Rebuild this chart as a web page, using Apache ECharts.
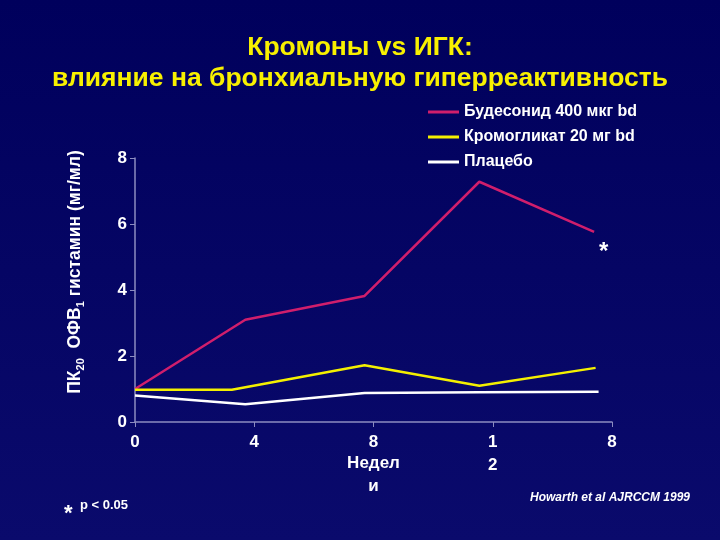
<!DOCTYPE html>
<html>
<head>
<meta charset="utf-8">
<script src="https://cdn.jsdelivr.net/npm/echarts@6/dist/echarts.min.js"></script>
<style>
html,body{margin:0;padding:0;background:#000060;}
#c{width:720px;height:540px;}
</style>
</head>
<body>
<div id="c"></div>
<script>
// ---- data ----
var xTickLabels = ["0", "4", "8", "1\n2", "8"];
var seriesNames = ["Будесонид 400 мкг bd", "Кромогликат 20 мг bd", "Плацебо"];
var budWeeks = [0, 3.7, 7.7, 11.55, 15.4];
var budValues = [1.0, 3.1, 3.82, 7.28, 5.76];
var cromWeeks = [0, 3.25, 7.7, 11.55, 15.45];
var cromValues = [0.98, 0.98, 1.72, 1.1, 1.64];
var placWeeks = [0, 3.7, 7.7, 11.55, 15.55];
var placValues = [0.8, 0.54, 0.88, 0.9, 0.92];

function pairs(xs, ys) { return xs.map(function (x, i) { return [x, ys[i]]; }); }

var font = 'Liberation Sans, Arial, sans-serif';
var chart = echarts.init(document.getElementById('c'));
chart.setOption({
  backgroundColor: {
    type: 'linear', x: 0, y: 0, x2: 0, y2: 1,
    colorStops: [{ offset: 0, color: '#00005c' }, { offset: 1, color: '#0a0a6c' }]
  },
  animation: false,
  title: {
    text: 'Кромоны vs ИГК:\nвлияние на бронхиальную гиперреактивность',
    left: 'center', top: 27,
    textStyle: { color: '#f8f000', fontSize: 26.5, fontWeight: 'bold', fontFamily: font, lineHeight: 31 }
  },
  legend: {
    orient: 'vertical', left: 423, top: 98,
    icon: 'rect', itemWidth: 31, itemHeight: 3, itemGap: 7,
    textStyle: { color: '#ffffff', fontSize: 16, fontWeight: 'bold', fontFamily: font, lineHeight: 18 },
    data: seriesNames
  },
  grid: { left: 135, right: 108, top: 158, bottom: 118 },
  xAxis: {
    type: 'value', min: 0, max: 16, interval: 4,
    splitLine: { show: false },
    axisLine: { lineStyle: { color: '#8c8cc0', width: 1.5 } },
    axisTick: { show: true, length: 5, lineStyle: { color: '#8c8cc0' } },
    axisLabel: {
      color: '#ffffff', fontSize: 17, fontWeight: 'bold', fontFamily: font, margin: 9, lineHeight: 23,
      formatter: function (v) { return xTickLabels[Math.round(v / 4)]; }
    },
    name: 'Недел\nи', nameLocation: 'middle', nameGap: 30, nameMoveOverlap: false,
    nameTextStyle: { color: '#ffffff', fontSize: 17, fontWeight: 'bold', fontFamily: font, lineHeight: 23, verticalAlign: 'top' }
  },
  yAxis: {
    type: 'value', min: 0, max: 8, interval: 2,
    splitLine: { show: false },
    axisLine: { show: true, lineStyle: { color: '#8c8cc0', width: 1.5 } },
    axisTick: { show: true, length: 5, lineStyle: { color: '#8c8cc0' } },
    axisLabel: { color: '#ffffff', fontSize: 17, fontWeight: 'bold', fontFamily: font, margin: 8 },
    name: '{a|ПК}{s|20}{a|  ОФВ}{s|1}{a| гистамин (мг/мл)}',
    nameLocation: 'middle', nameRotate: 90, nameGap: 49, nameMoveOverlap: false,
    nameTextStyle: {
      color: '#ffffff', fontSize: 17, fontWeight: 'bold', fontFamily: font, padding: [0, 0, 0, 36],
      rich: {
        a: { color: '#ffffff', fontSize: 17.5, fontWeight: 'bold', fontFamily: font, lineHeight: 22 },
        s: { color: '#ffffff', fontSize: 11, fontWeight: 'bold', fontFamily: font, lineHeight: 22, padding: [11, 0, 0, 0] }
      }
    }
  },
  series: [
    { name: seriesNames[0], type: 'line', data: pairs(budWeeks, budValues), showSymbol: false, symbol: 'none',
      lineStyle: { color: '#d01e6c', width: 2.5 }, itemStyle: { color: '#d01e6c' } },
    { name: seriesNames[1], type: 'line', data: pairs(cromWeeks, cromValues), showSymbol: false, symbol: 'none',
      lineStyle: { color: '#f4f000', width: 2.5 }, itemStyle: { color: '#f4f000' } },
    { name: seriesNames[2], type: 'line', data: pairs(placWeeks, placValues), showSymbol: false, symbol: 'none',
      lineStyle: { color: '#ffffff', width: 2.5 }, itemStyle: { color: '#ffffff' } }
  ],
  graphic: [
    { type: 'text', left: 599, top: 240, style: { text: '*', fill: '#ffffff', font: 'bold 24px ' + font } },
    { type: 'text', left: 64, top: 503, style: { text: '*', fill: '#ffffff', font: 'bold 22px ' + font } },
    { type: 'text', left: 80, top: 499, style: { text: 'p < 0.05', fill: '#ffffff', font: 'bold 13px ' + font } },
    { type: 'text', left: 530, top: 492, style: { text: 'Howarth et al AJRCCM 1999', fill: '#ffffff', font: 'italic bold 12px ' + font } }
  ]
});
</script>
</body>
</html>
